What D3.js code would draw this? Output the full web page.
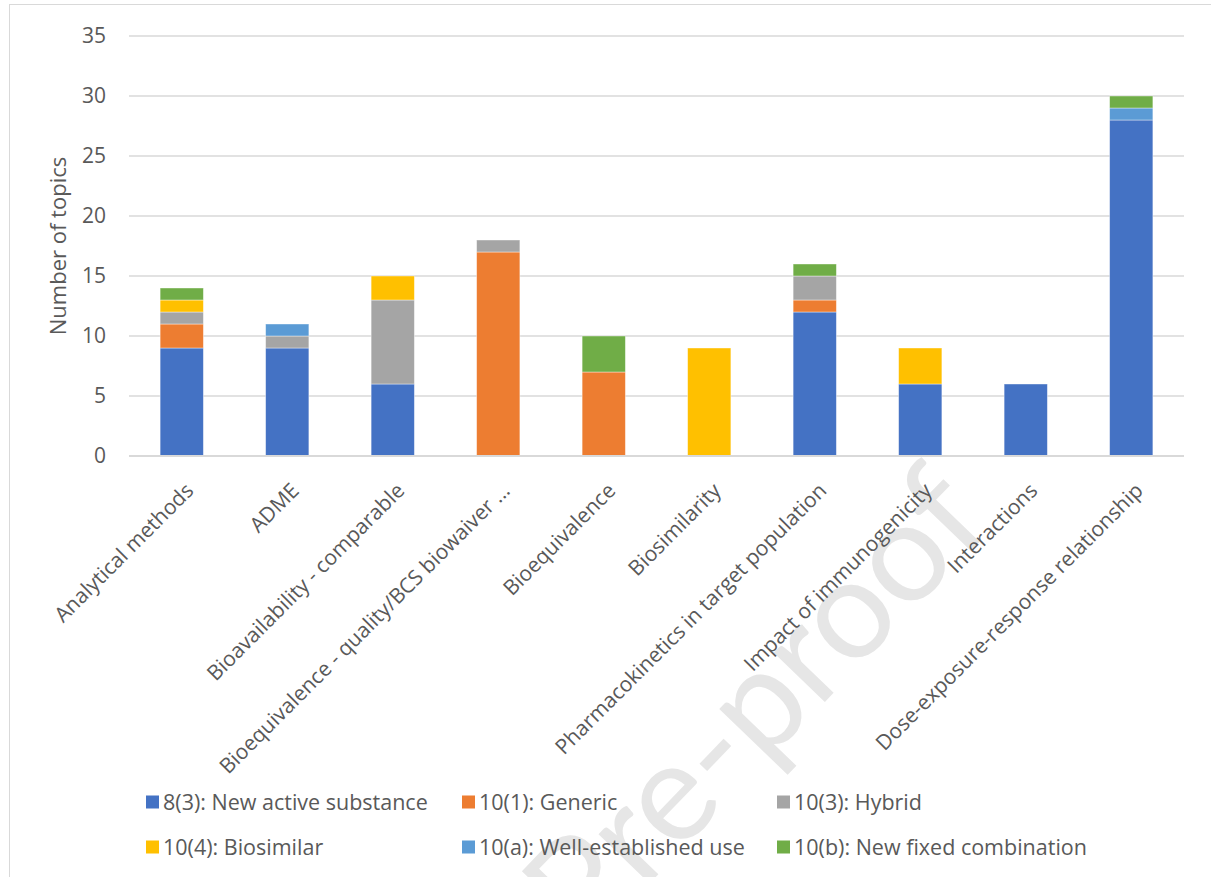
<!DOCTYPE html>
<html>
<head>
<meta charset="utf-8">
<script src="https://cdn.jsdelivr.net/npm/d3@7"></script>
<style>
    body { margin: 0; background: #fff; }
    text { font-family: "Open Sans", Lato, sans-serif; fill: #595959; }
</style>
</head>
<body>
<div id="chart"></div>
<script>
// categories (x axis)
const categories = [
    "Analytical methods",
    "ADME",
    "Bioavailability - comparable",
    "Bioequivalence - quality/BCS biowaiver ...",
    "Bioequivalence",
    "Biosimilarity",
    "Pharmacokinetics in target population",
    "Impact of immunogenicity",
    "Interactions",
    "Dose-exposure-response relationship"
];

// series (legal basis)
const seriesNames = [
    "8(3): New active substance",
    "10(1): Generic",
    "10(3): Hybrid",
    "10(4): Biosimilar",
    "10(a): Well-established use",
    "10(b): New fixed combination"
];
const seriesColors = ["#4472C4", "#ED7D31", "#A5A5A5", "#FFC000", "#5B9BD5", "#70AD47"];

const newActive       = [9, 9, 6, 0, 0, 0, 12, 6, 6, 28];
const generic         = [2, 0, 0, 17, 7, 0, 1, 0, 0, 0];
const hybrid          = [1, 1, 7, 1, 0, 0, 2, 0, 0, 0];
const biosimilar      = [1, 0, 2, 0, 0, 9, 0, 3, 0, 0];
const wellEstablished = [0, 1, 0, 0, 0, 0, 0, 0, 0, 1];
const fixedCombo      = [1, 0, 0, 0, 3, 0, 1, 0, 0, 1];

const yTicks = [0, 5, 10, 15, 20, 25, 30, 35];

const seriesValues = [newActive, generic, hybrid, biosimilar, wellEstablished, fixedCombo];

// build table for d3.stack
const table = categories.map((c, i) => {
    let row = { category: c };
    seriesNames.forEach((s, j) => row[s] = seriesValues[j][i]);
    return row;
});

const width = 1211, height = 877;
const margin = { top: 36, right: 27, bottom: 421, left: 129 };
const innerW = width - margin.left - margin.right;
const innerH = height - margin.top - margin.bottom;

const svg = d3.select("#chart").append("svg")
    .attr("width", width)
    .attr("height", height);

// chart border
svg.append("rect")
    .attr("x", 9.5).attr("y", 4.5)
    .attr("width", 1230).attr("height", 900)
    .attr("fill", "none")
    .attr("stroke", "#d9d9d9")
    .attr("stroke-width", 1);

// watermark
svg.append("text")
    .attr("transform", "translate(790,738) rotate(-46)")
    .attr("text-anchor", "middle")
    .style("font-size", "140px")
    .style("font-family", "Lato, sans-serif")
    .style("fill", "#e6e6e6")
    .text("Pre-proof");

const g = svg.append("g")
    .attr("transform", `translate(${margin.left},${margin.top})`);

const x = d3.scaleBand()
    .domain(categories)
    .range([0, innerW])
    .paddingInner(0.59)
    .paddingOuter(0.295);

const y = d3.scaleLinear()
    .domain([0, 35])
    .range([innerH, 0]);

// gridlines
g.selectAll(".grid")
    .data(yTicks.filter(d => d > 0))
    .enter()
    .append("line")
    .attr("class", "grid")
    .attr("x1", 0).attr("x2", innerW)
    .attr("y1", d => y(d)).attr("y2", d => y(d))
    .attr("stroke", "#d9d9d9")
    .attr("stroke-width", 1.3);

// y axis labels
const yAxis = d3.axisLeft(y).tickValues(yTicks).tickSize(0).tickPadding(23);
g.append("g")
    .call(yAxis)
    .call(a => a.select(".domain").remove())
    .selectAll("text")
    .style("font-size", "21px")
    .style("font-family", "'Open Sans', sans-serif")
    .attr("fill", "#595959");

// stacked bars
const stack = d3.stack().keys(seriesNames);
const stacked = stack(table);

g.selectAll(".series")
    .data(stacked)
    .enter()
    .append("g")
    .attr("class", "series")
    .attr("fill", (d, i) => seriesColors[i])
    .selectAll("rect")
    .data(d => d.filter(p => p[1] - p[0] > 0))
    .enter()
    .append("rect")
    .attr("x", d => x(d.data.category))
    .attr("y", d => y(d[1]))
    .attr("width", x.bandwidth())
    .attr("height", d => y(d[0]) - y(d[1]))
    .attr("stroke", "#ffffff")
    .attr("stroke-opacity", 0.5)
    .attr("stroke-width", 0.8);

// baseline
g.append("line")
    .attr("x1", 0).attr("x2", innerW)
    .attr("y1", y(0)).attr("y2", y(0))
    .attr("stroke", "#d9d9d9")
    .attr("stroke-width", 2);

// x axis labels, rotated
const xAxis = d3.axisBottom(x).tickSize(0).tickPadding(0);
const xg = g.append("g")
    .attr("transform", `translate(0,${innerH})`)
    .call(xAxis);
xg.select(".domain").remove();
xg.selectAll("text")
    .attr("y", 0).attr("dy", 0)
    .attr("text-anchor", "end")
    .attr("transform", "translate(13,36) rotate(-45)")
    .style("font-size", "21px")
    .style("font-family", "'Open Sans', sans-serif")
    .attr("fill", "#595959");

// y axis title
svg.append("text")
    .attr("transform", `translate(66,${margin.top + innerH / 2}) rotate(-90)`)
    .attr("text-anchor", "middle")
    .style("font-size", "22px")
    .text("Number of topics");

// legend
const legendX = [146, 462, 777];
const legendY = [802, 847];
const legend = svg.selectAll(".legend")
    .data(seriesNames)
    .enter()
    .append("g")
    .attr("class", "legend")
    .attr("transform", (d, i) => `translate(${legendX[i % 3]},${legendY[Math.floor(i / 3)]})`);

legend.append("rect")
    .attr("x", 0).attr("y", -6.5)
    .attr("width", 13).attr("height", 13)
    .attr("fill", (d, i) => seriesColors[i]);

legend.append("text")
    .attr("x", 17)
    .attr("dy", "0.35em")
    .style("font-size", "21.5px")
    .text(d => d);
</script>
</body>
</html>
